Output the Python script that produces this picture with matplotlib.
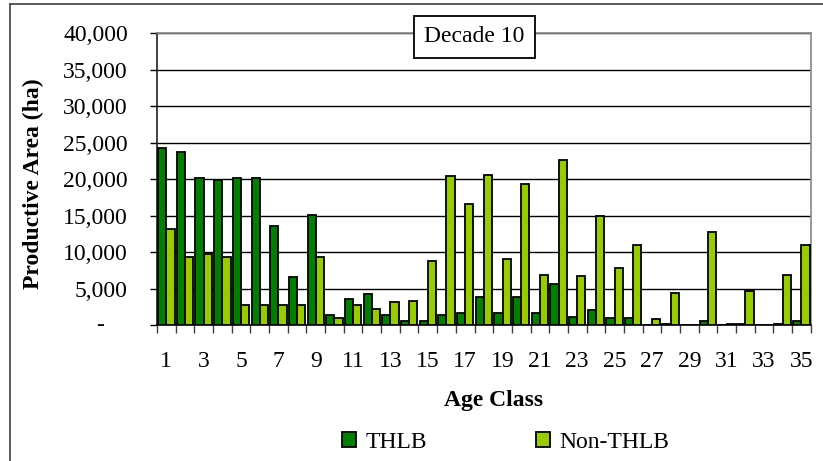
import matplotlib
matplotlib.use("Agg")
import matplotlib.pyplot as plt
from matplotlib.lines import Line2D
import numpy as np

plt.rcParams['font.family'] = ['Liberation Serif', 'DejaVu Serif']

age_classes = list(range(1, 36))
thlb = [24200, 23700, 20100, 19800, 20100, 20100, 13500, 6600, 15100, 1400,
        3600, 4200, 1400, 600, 600, 1400, 1700, 3900, 1700, 3900,
        1700, 5600, 1100, 2000, 900, 900, 0, 200, 0, 500,
        0, 200, 0, 200, 500]
non_thlb = [13200, 9300, 9700, 9300, 2800, 2800, 2800, 2800, 9300, 900,
            2800, 2200, 3200, 3300, 8800, 20400, 16600, 20600, 9100, 19300,
            6900, 22600, 6700, 15000, 7800, 11000, 800, 4400, 0, 12700,
            200, 4700, 0, 6900, 11000]
y_ticks = [0, 5000, 10000, 15000, 20000, 25000, 30000, 35000, 40000]
title_text = "Decade 10"
series_names = ["THLB", "Non-THLB"]

W, H = 823, 461
fig = plt.figure(figsize=(W / 100, H / 100), dpi=100)
L, R, T, B = 157, 810.7, 33, 325
ax = fig.add_axes([L / W, 1 - B / H, (R - L) / W, (B - T) / H])

FS = 17
x = np.array(age_classes, dtype=float)
bw = 0.44
ax.bar(x - bw / 2, thlb, width=bw, color='#008000', edgecolor='black', linewidth=1.3,
       label=series_names[0], zorder=3)
ax.bar(x + bw / 2, non_thlb, width=bw, color='#99CC00', edgecolor='black', linewidth=1.3,
       label=series_names[1], zorder=3)

ax.set_xlim(0.5, 35.5)
ax.set_ylim(0, 40000)

# y axis
ax.set_yticks(y_ticks)
ax.set_yticklabels([""] + [f"{v:,}" for v in y_ticks[1:]])
ax.tick_params(axis='y', direction='out', length=5, width=1, pad=16, labelsize=FS, color='black')
ax.annotate("-", xy=(0, 0), xycoords=('axes fraction', 'data'),
            xytext=(-38.5, 0), textcoords='offset points', ha='right', va='center',
            fontsize=FS)
ax.yaxis.grid(True, color='black', linewidth=1)
ax.set_axisbelow(True)

# x axis: ticks at category boundaries, labels on odd categories
ax.set_xticks(np.arange(0.5, 36, 1.0))
ax.set_xticklabels([])
ax.tick_params(axis='x', which='major', direction='out', length=5.5, width=1, color='#404040')
ax.set_xticks([c for c in age_classes if c % 2 == 1], minor=True)
ax.set_xticklabels([str(c) for c in age_classes if c % 2 == 1], minor=True)
ax.tick_params(axis='x', which='minor', length=0, pad=19, labelsize=FS)

for s in ['top', 'right']:
    ax.spines[s].set_color('#888888')
    ax.spines[s].set_linewidth(1.2)
ax.spines['left'].set_color('#202020')
ax.spines['bottom'].set_color('black')
ax.spines['left'].set_linewidth(1.2)
ax.spines['bottom'].set_linewidth(1.2)
ax.spines['top'].set_zorder(4)

ax.set_xlabel("Age Class", fontsize=FS, fontweight='bold')
ax.xaxis.set_label_coords((494 - L) / (R - L), -(400 - B) / (B - T))
ax.xaxis.label.set_va('center')
ax.set_ylabel("Productive Area (ha)", fontsize=FS, fontweight='bold')
ax.yaxis.set_label_coords(-(L - 33) / (R - L), (B - 184) / (B - T))
ax.yaxis.label.set_va('center')

ax.text((474.5 - L) / (R - L), (B - 36.7) / (B - T), title_text, fontsize=FS,
        ha='center', va='center', transform=ax.transAxes, zorder=6,
        bbox=dict(boxstyle='square,pad=0.45', facecolor='white', edgecolor='black', linewidth=1.3))

leg = fig.legend(loc='center', bbox_to_anchor=(505.7 / W, 1 - 442 / H), ncol=2,
                 frameon=False, fontsize=FS, handlelength=0.6, handleheight=0.6,
                 handletextpad=0.4, columnspacing=4.6, borderpad=0, borderaxespad=0)

# outer chart frame
fig.add_artist(Line2D([9.5 / W, 9.5 / W], [0, 1 - 4 / H], color='#404040', linewidth=1.2,
                      transform=fig.transFigure))
fig.add_artist(Line2D([9.5 / W, 1], [1 - 4 / H, 1 - 4 / H], color='#404040', linewidth=1.2,
                      transform=fig.transFigure))

fig.savefig("out.png", dpi=100)
